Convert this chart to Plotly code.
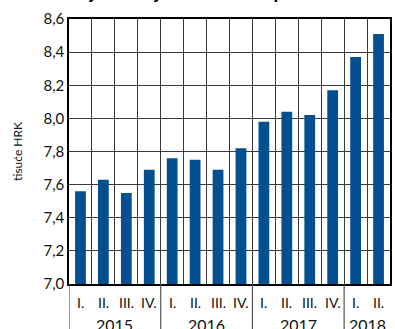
import plotly.graph_objects as go

# Average monthly gross wage by quarter, thousands of HRK
years = ["2015", "2016", "2017", "2018"]
quarters_per_year = [4, 4, 4, 2]
quarter_labels = ["I.", "II.", "III.", "IV.", "I.", "II.", "III.", "IV.",
                  "I.", "II.", "III.", "IV.", "I.", "II."]
wages = [7.56, 7.63, 7.55, 7.69, 7.76, 7.75, 7.69, 7.82,
         7.98, 8.04, 8.02, 8.17, 8.37, 8.51]

y_ticks = [7.0, 7.2, 7.4, 7.6, 7.8, 8.0, 8.2, 8.4, 8.6]

font_family = "Lato, 'DejaVu Sans', sans-serif"
bar_color = "#02508f"
grid_color = "#3a3a3a"

n = len(wages)
positions = list(range(n))
boundaries = [i - 0.5 for i in range(n + 1)]

fig = go.Figure(
    go.Bar(
        x=positions,
        y=wages,
        marker=dict(color=bar_color, line=dict(width=0)),
        width=0.47,
    )
)

fig.update_layout(
    width=395,
    height=329,
    margin=dict(l=69, r=3, t=19, b=45),
    paper_bgcolor="white",
    plot_bgcolor="white",
    separators=", ",
    showlegend=False,
    font=dict(family=font_family, color="#111111", size=13),
)

fig.update_yaxes(
    range=[7.0, 8.6],
    tickvals=y_ticks,
    tickformat=".1f",
    showgrid=True,
    gridcolor=grid_color,
    gridwidth=1,
    showline=True,
    linecolor="black",
    linewidth=1.5,
    mirror=True,
    ticks="",
    tickfont=dict(size=15),
    title=dict(text="tisuće HRK", font=dict(size=12), standoff=18),
)

fig.update_xaxes(
    range=[-0.5, n - 0.5],
    tickvals=boundaries,
    ticktext=[""] * len(boundaries),
    showgrid=True,
    gridcolor=grid_color,
    gridwidth=1,
    showline=True,
    linecolor="black",
    linewidth=1.5,
    mirror=True,
    ticks="",
    zeroline=False,
)

# Quarter labels under each bar
for pos, q in zip(positions, quarter_labels):
    fig.add_annotation(
        text=q, x=pos, y=0, xref="x", yref="paper",
        yanchor="middle", yshift=-18, showarrow=False,
        font=dict(size=14, family=font_family, color="#111111"),
    )

# Year labels and the dividers between year groups
start = 0
fig.add_shape(type="line", xref="x", yref="paper",
              x0=-0.5, x1=-0.5, y0=0, y1=-0.2,
              line=dict(color="#555555", width=1.2))
for year, count in zip(years, quarters_per_year):
    end = start + count
    fig.add_annotation(
        text=year, x=(start + end - 1) / 2, y=0, xref="x", yref="paper",
        yanchor="middle", yshift=-40, showarrow=False,
        font=dict(size=16, family=font_family, color="#111111"),
    )
    if end < n:
        fig.add_shape(type="line", xref="x", yref="paper",
                      x0=end - 0.5, x1=end - 0.5, y0=0, y1=-0.2,
                      line=dict(color="#555555", width=1.2))
    start = end

# Chart heading (sits at the very top edge)
fig.add_annotation(
    text="<b>Prosječna mjesečna bruto plaća</b>",
    xref="paper", yref="paper",
    x=0.36, y=1, xanchor="center", yanchor="bottom",
    yshift=14, showarrow=False,
    font=dict(size=19, family=font_family, color="black"),
)

fig.write_html("out.html")
